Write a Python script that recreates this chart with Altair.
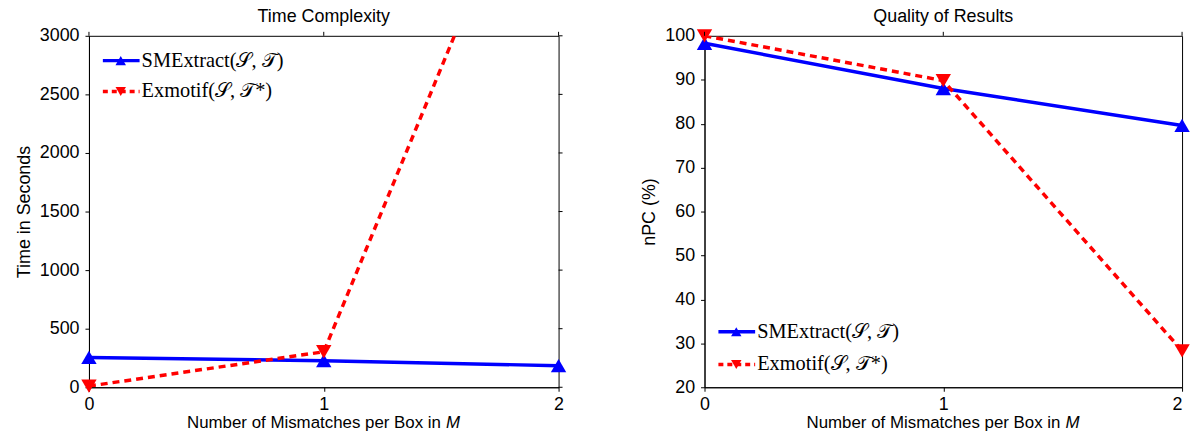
import altair as alt
import pandas as pd

# Mismatches allowed per box (x axis of both panels)
mismatches = [0, 1, 2]

# Left panel: running time in seconds
time_smextract = [255, 227, 184]
time_exmotif = [10, 303, 5150]
time_ticks = [0, 500, 1000, 1500, 2000, 2500, 3000]

# Right panel: nPC quality in percent
npc_smextract = [98.3, 88.0, 79.6]
npc_exmotif = [100.0, 89.8, 28.3]
npc_ticks = [20, 30, 40, 50, 60, 70, 80, 90, 100]

series_labels = ["SMExtract(𝒮, 𝒯)", "Exmotif(𝒮, 𝒯*)"]

BLUE = "#0000ff"
RED = "#ff0000"
SANS = "Liberation Sans"
SERIF = "Liberation Serif"
LINE_W = 3.5
DASH = [7, 5]


def panel(sme, exm, ticks, title, ytitle, width, height, legend_top, legend_gap,
          ytitle_pad, right_ticks=True, last_label_align="center"):
    lo, hi = ticks[0], ticks[-1]
    x_enc = alt.X(
        "m:Q",
        scale=alt.Scale(domain=[0, 2], nice=False, zero=False),
        axis=alt.Axis(tickCount=2, format="d", title=None, grid=False,
                      labelFlush=False, labelPadding=4,
                      labelAlign={"expr": f"datum.value == 2 ? '{last_label_align}' : 'center'"}),
    )
    y_enc = alt.Y(
        "v:Q",
        scale=alt.Scale(domain=[lo, hi], nice=False, zero=False),
        axis=alt.Axis(values=ticks, format="d", title=ytitle, grid=False,
                      labelFlush=False, titlePadding=ytitle_pad),
    )
    df_s = pd.DataFrame({"m": mismatches, "v": sme})
    df_e = pd.DataFrame({"m": mismatches, "v": exm})
    in_range = f"datum.v >= {lo} && datum.v <= {hi}"

    layers = [
        alt.Chart(df_s).mark_line(color=BLUE, strokeWidth=LINE_W, clip=True).encode(x=x_enc, y=y_enc),
        alt.Chart(df_s).mark_point(shape="triangle-up", filled=True, size=240, color=BLUE, opacity=1)
        .encode(x=x_enc, y=y_enc).transform_filter(in_range),
        alt.Chart(df_e).mark_line(color=RED, strokeWidth=LINE_W, strokeDash=DASH, clip=True).encode(x=x_enc, y=y_enc),
        alt.Chart(df_e).mark_point(shape="triangle-down", filled=True, size=240, color=RED, opacity=1)
        .encode(x=x_enc, y=y_enc).transform_filter(in_range),
        # mirrored ticks along the top edge of the box
        alt.Chart(pd.DataFrame({"m": mismatches})).mark_rule(color="black", strokeWidth=1)
        .encode(x=x_enc, y=alt.value(-4), y2=alt.value(0)),
    ]
    if right_ticks:
        layers.append(
            alt.Chart(pd.DataFrame({"v": ticks})).mark_rule(color="black", strokeWidth=1)
            .encode(y=y_enc, x=alt.value(width), x2=alt.value(width + 4))
        )

    # legend drawn inside the box
    styles = [(BLUE, None, "triangle-up"), (RED, DASH, "triangle-down")]
    for i, (label, (color, dash, shape)) in enumerate(zip(series_labels, styles)):
        ly = legend_top + i * legend_gap
        row = pd.DataFrame({"label": [label]})
        rule_kw = dict(color=color, strokeWidth=LINE_W)
        if dash:
            rule_kw["strokeDash"] = [5, 4]
        layers += [
            alt.Chart(row).mark_rule(**rule_kw)
            .encode(x=alt.value(14), x2=alt.value(51), y=alt.value(ly)),
            alt.Chart(row).mark_point(shape=shape, filled=True, size=110, color=color, opacity=1)
            .encode(x=alt.value(32), y=alt.value(ly)),
            alt.Chart(row).mark_text(align="left", baseline="middle", font=SERIF, fontSize=20.5, color="black")
            .encode(x=alt.value(53), y=alt.value(ly), text="label:N"),
        ]

    # x axis title with an italic M
    xt = pd.DataFrame({"a": ["Number of Mismatches per Box in"], "b": ["M"]})
    split = width / 2 + 118
    layers += [
        alt.Chart(xt).mark_text(align="right", baseline="middle", font=SANS, fontSize=17, color="black")
        .encode(x=alt.value(split), y=alt.value(height + 36), text="a:N"),
        alt.Chart(xt).mark_text(align="left", baseline="middle", font=SANS, fontSize=17,
                                fontStyle="italic", color="black")
        .encode(x=alt.value(split + 5), y=alt.value(height + 36), text="b:N"),
    ]

    return alt.layer(*layers).properties(
        width=width, height=height,
        title=alt.TitleParams(title, font=SANS, fontSize=18, fontWeight="normal",
                              color="black", anchor="middle", offset=1),
    )


left = panel(time_smextract, time_exmotif, time_ticks, "Time Complexity", "Time in Seconds",
             473, 354, 25, 31, 6)
right = panel(npc_smextract, npc_exmotif, npc_ticks, "Quality of Results", "nPC (%)",
              481, 354, 298, 33, 6, right_ticks=False, last_label_align="right")

chart = (
    alt.hconcat(left, right, spacing=73)
    .properties(padding={"left": 14.6, "top": 5.5, "right": 0, "bottom": 0}, background="white")
    .configure_view(stroke="black", strokeWidth=1)
    .configure_axis(
        labelFont=SANS, labelFontSize=18, labelColor="black", labelPadding=6,
        tickColor="black", tickSize=4, domainColor="black", domainWidth=1,
        titleFont=SANS, titleFontSize=18, titleFontWeight="normal", titleColor="black",
    )
)

chart.save("out.html", embed_options={"renderer": "svg", "actions": False})
